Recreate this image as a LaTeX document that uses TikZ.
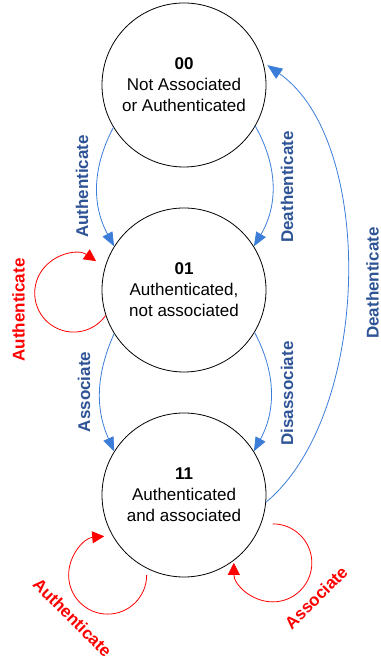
\documentclass[tikz,border=0pt]{standalone}
\usepackage{fontspec}
\setmainfont{Liberation Sans}
\usetikzlibrary{arrows.meta}
\definecolor{arcblue}{RGB}{59,125,216}
\definecolor{labelblue}{RGB}{47,84,150}

\begin{document}
\begin{tikzpicture}[x=1pt, y=1pt,
		stateball/.style={circle, draw, line width=0.8pt, minimum size=164pt, inner sep=0pt, align=center, font=\fontsize{17}{21}\selectfont},
		bluearc/.style={arcblue, line width=0.8pt, -{Triangle[length=14pt,width=11pt]}},
		redloop/.style={red, line width=0.8pt, -{Triangle[length=12pt,width=12pt]}},
		bluelab/.style={labelblue, inner sep=0pt, font=\bfseries\fontsize{17}{20}\selectfont},
		redlab/.style={red, inner sep=0pt, font=\bfseries\fontsize{17}{20}\selectfont}]
		\useasboundingbox (0,0) rectangle (380,660);
		\node[stateball] (s00) at (184,575) {\textbf{00}\\Not Associated\\or Authenticated};
		\node[stateball] (s01) at (184,370) {\textbf{01}\\Authenticated,\\not associated};
		\node[stateball] (s11) at (184,165) {\textbf{11}\\Authenticated\\and associated};
		
		\draw[bluearc] (s00.211) to[bend right=28] (s01.148);
		\draw[bluearc] (s00.330) to[bend left=30] (s01.32);
		\draw[bluearc] (s01.212) to[bend right=24] (s11.148);
		\draw[bluearc] (s01.329) to[bend left=28] (s11.32);
		\draw[bluearc, -{Triangle[length=15pt,width=12pt]}, shorten >=5pt] (s11.355) to[out=40, in=-35, looseness=0.8] (s00.16);
		
		\draw[redloop] (s01.198) arc[start angle=-35, end angle=-305, radius=39pt];
		\draw[redloop] ([shift={(245:6pt)}]s11.245) arc[start angle=0, end angle=-265, radius=39pt];
		\draw[redloop] ([shift={(-18:11pt)}]s11.-18) arc[start angle=90, end angle=-180, radius=39pt];
		
		\node[bluelab, rotate=90] (lauth) at (82,473.5) {Authenticate};
		\node[bluelab, rotate=90] (ldeauth) at (287,473) {Deathenticate};
		\node[bluelab, rotate=90] (lassoc) at (84,268) {Associate};
		\node[bluelab, rotate=90] (ldisassoc) at (287,266.5) {Disassociate};
		\node[bluelab, rotate=90] (ldeauthfar) at (372.5,377) {Deathenticate};
		\node[redlab, rotate=90] (lauthself) at (18.5,350) {Authenticate};
		\node[redlab, rotate=-45] (lauthbot) at (72.5,42.5) {Authenticate};
		\node[redlab, rotate=45] (lassocbot) at (316,62.5) {Associate};
	\end{tikzpicture}
\end{document}
